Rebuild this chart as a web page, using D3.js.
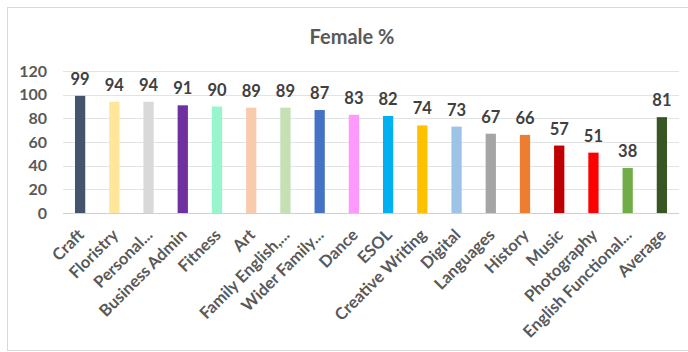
<!DOCTYPE html>
<html>
<head>
<meta charset="utf-8">
<script src="https://cdn.jsdelivr.net/npm/d3@7"></script>
<style>
  html, body { margin: 0; padding: 0; background: #fff; }
  svg { display: block; }
  text { font-family: Lato, "Open Sans", sans-serif; }
</style>
</head>
<body>
<svg id="chart" width="688" height="352"></svg>
<script>
const categories = ["Craft", "Floristry", "Personal...", "Business Admin", "Fitness", "Art",
  "Family English,...", "Wider Family...", "Dance", "ESOL", "Creative Writing", "Digital",
  "Languages", "History", "Music", "Photography", "English Functional...", "Average"];
const femalePct = [99, 94, 94, 91, 90, 89, 89, 87, 83, 82, 74, 73, 67, 66, 57, 51, 38, 81];
const barColors = ["#44546A", "#FFE699", "#D9D9D9", "#7030A0", "#99F5CC", "#F8CBAD",
  "#C5E0B4", "#4472C4", "#FF99FF", "#00B0F0", "#FFC000", "#9DC3E6",
  "#A5A5A5", "#ED7D31", "#C00000", "#FF0000", "#70AD47", "#375623"];
const yTicks = [0, 20, 40, 60, 80, 100, 120];
const chartTitle = "Female %";

const svg = d3.select("#chart");
const W = 688, H = 352;
const plot = { left: 63, right: 679, top: 71, bottom: 213 };

// outer chart frame
svg.append("rect")
  .attr("x", 7.5).attr("y", 7.5)
  .attr("width", W + 10).attr("height", H - 9)
  .attr("fill", "#fff").attr("stroke", "#d9d9d9").attr("stroke-width", 1);

const x = d3.scaleBand().domain(categories).range([plot.left, plot.right]).paddingInner(0.7).paddingOuter(0.35);
const y = d3.scaleLinear().domain([0, 120]).range([plot.bottom, plot.top]);

// gridlines
svg.append("g")
  .selectAll("line").data(yTicks).join("line")
  .attr("x1", plot.left).attr("x2", plot.right)
  .attr("y1", d => Math.round(y(d)) + 0.5).attr("y2", d => Math.round(y(d)) + 0.5)
  .attr("stroke", d => d === 0 ? "#d0d0d0" : "#e3e3e3").attr("stroke-width", 1);

// y axis labels
const yAxis = d3.axisLeft(y).tickValues(yTicks).tickSize(0).tickPadding(0);
const yg = svg.append("g").attr("transform", `translate(${plot.left - 16},0)`).call(yAxis);
yg.select(".domain").remove();
yg.selectAll("text")
  .attr("font-size", 16).attr("font-weight", "bold").attr("fill", "#595959")
  .attr("font-family", "Lato, 'Open Sans', sans-serif");

// bars
svg.append("g")
  .selectAll("rect").data(categories).join("rect")
  .attr("x", d => x(d))
  .attr("width", x.bandwidth())
  .attr("y", (d, i) => y(femalePct[i]))
  .attr("height", (d, i) => y(0) - y(femalePct[i]))
  .attr("fill", (d, i) => barColors[i]);

// value labels
svg.append("g")
  .selectAll("text").data(categories).join("text")
  .attr("x", d => x(d) + x.bandwidth() / 2)
  .attr("y", (d, i) => y(femalePct[i]) - 11)
  .attr("text-anchor", "middle")
  .attr("font-size", 16.5).attr("font-weight", "bold").attr("fill", "#404040")
  .text((d, i) => femalePct[i]);

// category labels, rotated
const xAxis = d3.axisBottom(x).tickSize(0).tickPadding(0);
const xg = svg.append("g").attr("transform", `translate(0,${plot.bottom})`).call(xAxis);
xg.select(".domain").remove();
xg.selectAll("text")
  .attr("font-size", 16.5).attr("font-weight", "bold").attr("fill", "#595959")
  .attr("font-family", "Lato, 'Open Sans', sans-serif")
  .attr("text-anchor", "end")
  .attr("dy", null)
  .attr("transform", "translate(5,23) rotate(-45)");

// title
svg.append("text")
  .attr("x", 352).attr("y", 44)
  .attr("text-anchor", "middle")
  .attr("font-size", 20).attr("font-weight", "bold").attr("fill", "#595959")
  .text(chartTitle);
</script>
</body>
</html>
